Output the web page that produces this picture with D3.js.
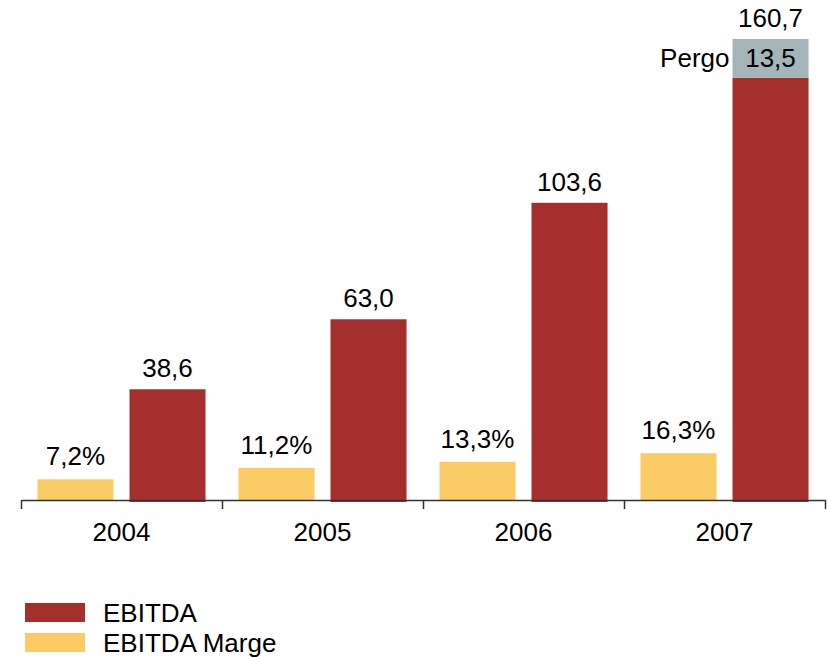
<!DOCTYPE html>
<html>
<head>
<meta charset="utf-8">
<script src="https://cdn.jsdelivr.net/npm/d3@7"></script>
<style>
  body { margin: 0; background: #fff; }
  text { font-family: "Liberation Sans", Arial, sans-serif; fill: #000; font-size: 26px; }
</style>
</head>
<body>
<div id="chart"></div>
<script>
// chart data
const years = ['2004', '2005', '2006', '2007'];
const ebitda = [38.6, 63.0, 103.6, 147.2];
const pergo = [0, 0, 0, 13.5];
const ebitdaLabels = ['38,6', '63,0', '103,6', '160,7'];
const marge = [7.2, 11.2, 13.3, 16.3];
const margeLabels = ['7,2%', '11,2%', '13,3%', '16,3%'];
const legendLabels = ['EBITDA', 'EBITDA Marge'];

const RED = '#a52f2c';
const YELLOW = '#fbcb66';
const GRAY = '#a3b5b8';

const width = 827, height = 657;
const svg = d3.select('#chart').append('svg')
  .attr('width', width)
  .attr('height', height);

// scales
const x = d3.scaleBand().domain(years).range([21, 825]);
const xEdge = d3.scaleLinear().domain([0, years.length]).range([21, 825]);
const inner = d3.scaleBand().domain(['marge', 'ebitda'])
  .range([0, x.bandwidth()])
  .paddingInner(0.174)
  .paddingOuter(0.179);
const y = d3.scaleLinear().domain([0, 160.7]).range([500, 39]);

// margin bars
svg.append('g').selectAll('rect')
  .data(marge)
  .join('rect')
  .attr('x', (d, i) => x(years[i]) + inner('marge'))
  .attr('y', d => y(d))
  .attr('width', inner.bandwidth())
  .attr('height', d => y(0) - y(d))
  .attr('fill', YELLOW);

// ebitda bars
svg.append('g').selectAll('rect')
  .data(ebitda)
  .join('rect')
  .attr('x', (d, i) => x(years[i]) + inner('ebitda'))
  .attr('y', d => y(d))
  .attr('width', inner.bandwidth())
  .attr('height', d => y(0) - y(d) + 2)
  .attr('fill', RED);

// pergo segment on top
svg.append('g').selectAll('rect')
  .data(pergo.map((p, i) => ({ p, i })).filter(d => d.p > 0))
  .join('rect')
  .attr('x', d => x(years[d.i]) + inner('ebitda'))
  .attr('y', d => y(ebitda[d.i] + d.p))
  .attr('width', inner.bandwidth())
  .attr('height', d => y(ebitda[d.i]) - y(ebitda[d.i] + d.p))
  .attr('fill', GRAY);

pergo.forEach((p, i) => {
  if (p <= 0) return;
  let cx = x(years[i]) + inner('ebitda');
  let mid = (y(ebitda[i]) + y(ebitda[i] + p)) / 2;
  svg.append('text')
    .attr('x', cx + inner.bandwidth() / 2)
    .attr('y', mid)
    .attr('dy', '0.35em')
    .attr('text-anchor', 'middle')
    .text(String(p).replace('.', ','));
  svg.append('text')
    .attr('x', cx - 3)
    .attr('y', mid)
    .attr('dy', '0.35em')
    .attr('text-anchor', 'end')
    .text('Pergo');
});

// value labels
svg.append('g').selectAll('text')
  .data(marge)
  .join('text')
  .attr('x', (d, i) => x(years[i]) + inner('marge') + inner.bandwidth() / 2)
  .attr('y', d => y(d) - 14)
  .attr('text-anchor', 'middle')
  .text((d, i) => margeLabels[i]);

svg.append('g').selectAll('text')
  .data(ebitda)
  .join('text')
  .attr('x', (d, i) => x(years[i]) + inner('ebitda') + inner.bandwidth() / 2)
  .attr('y', (d, i) => y(d + pergo[i]) - 12)
  .attr('text-anchor', 'middle')
  .text((d, i) => ebitdaLabels[i]);

// x axis with ticks between categories
const axis = d3.axisBottom(xEdge)
  .tickValues(d3.range(years.length + 1))
  .tickSize(9)
  .tickSizeOuter(0)
  .tickFormat('');
const gAxis = svg.append('g')
  .attr('transform', `translate(0, ${y(0)})`)
  .call(axis);
gAxis.select('.domain').attr('stroke', '#333').attr('stroke-width', 1.5);
gAxis.selectAll('.tick line').attr('stroke', '#333').attr('stroke-width', 1.5);

svg.append('g').selectAll('text')
  .data(years)
  .join('text')
  .attr('x', d => x(d) + x.bandwidth() / 2)
  .attr('y', 541)
  .attr('text-anchor', 'middle')
  .text(d => d);

// legend
const legend = svg.append('g');
[RED, YELLOW].forEach((c, i) => {
  let ly = 603 + i * 30;
  legend.append('rect')
    .attr('x', 25)
    .attr('y', ly)
    .attr('width', 60)
    .attr('height', 19)
    .attr('fill', c);
  legend.append('text')
    .attr('x', 103)
    .attr('y', ly + 9.5)
    .attr('dy', '0.35em')
    .text(legendLabels[i]);
});
</script>
</body>
</html>
